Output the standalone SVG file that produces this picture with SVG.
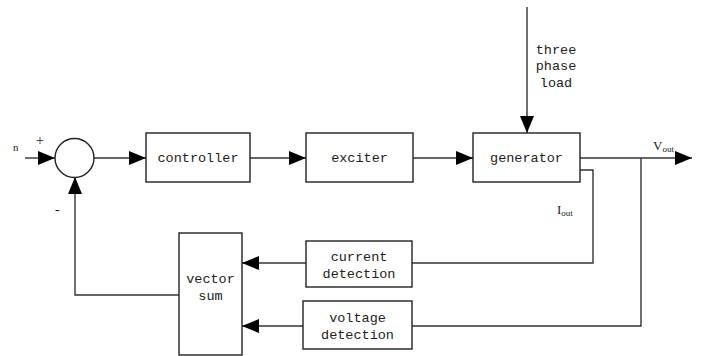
<svg xmlns="http://www.w3.org/2000/svg" width="701" height="356" viewBox="0 0 701 356">
<defs>
<marker id="ah" markerWidth="18" markerHeight="14" refX="17" refY="7" orient="auto" markerUnits="userSpaceOnUse">
<path d="M0,0 L17,7 L0,14 Z" fill="#000"/>
</marker>
</defs>
<style>
.box{fill:#fff;stroke:#222;stroke-width:1.4}
.ln{fill:none;stroke:#333;stroke-width:1.4}
.t{font-family:"Liberation Mono","DejaVu Sans Mono",monospace;font-size:13.5px;fill:#222;text-anchor:middle}
.s{font-family:"Liberation Serif","DejaVu Serif",serif;fill:#222}
</style>
<rect width="701" height="356" fill="#fff"/>
<g id="connectors">
<path class="ln" d="M25,158 H55" marker-end="url(#ah)"/>
<path class="ln" d="M94,158 H146" marker-end="url(#ah)"/>
<path class="ln" d="M250,158 H306" marker-end="url(#ah)"/>
<path class="ln" d="M413,158 H473" marker-end="url(#ah)"/>
<path class="ln" d="M527,7 V133" marker-end="url(#ah)"/>
<path class="ln" d="M580,158 H692" marker-end="url(#ah)"/>
<path class="ln" d="M580,170 H593 V263 H412"/>
<path class="ln" d="M641,158 V326 H412"/>
<path class="ln" d="M306,263 H242" marker-end="url(#ah)"/>
<path class="ln" d="M303,326 H242" marker-end="url(#ah)"/>
<path class="ln" d="M179,295 H75 V177" marker-end="url(#ah)"/>
</g>
<g id="sum"><circle cx="74.5" cy="158" r="19.5" class="box"/></g>
<g id="controller"><rect class="box" x="146" y="133" width="104" height="49"/><text class="t" x="198" y="162">controller</text></g>
<g id="exciter"><rect class="box" x="306" y="133" width="107" height="49"/><text class="t" x="359.5" y="162">exciter</text></g>
<g id="generator"><rect class="box" x="473" y="133" width="107" height="49"/><text class="t" x="526.5" y="162">generator</text></g>
<g id="current-detection"><rect class="box" x="306" y="241" width="106" height="46"/><text class="t" x="359" y="261">current</text><text class="t" x="359" y="278">detection</text></g>
<g id="voltage-detection"><rect class="box" x="303" y="301" width="109" height="48"/><text class="t" x="357.5" y="322">voltage</text><text class="t" x="357.5" y="339">detection</text></g>
<g id="vector-sum"><rect class="box" x="179" y="233" width="63" height="122"/><text class="t" x="210.5" y="283">vector</text><text class="t" x="210.5" y="300">sum</text></g>
<g id="labels">
<text class="t" x="556" y="54">three</text>
<text class="t" x="556" y="70">phase</text>
<text class="t" x="556" y="87">load</text>
<text class="s" x="13" y="151" font-size="11">n</text>
<text class="s" x="36" y="145" font-size="14">+</text>
<text class="s" x="55" y="214" font-size="14">-</text>
<text class="s" x="653" y="150" font-size="13">V<tspan font-size="9" dy="2">out</tspan></text>
<text class="s" x="557" y="214" font-size="13">I<tspan font-size="9" dy="2">out</tspan></text>
</g>
</svg>
